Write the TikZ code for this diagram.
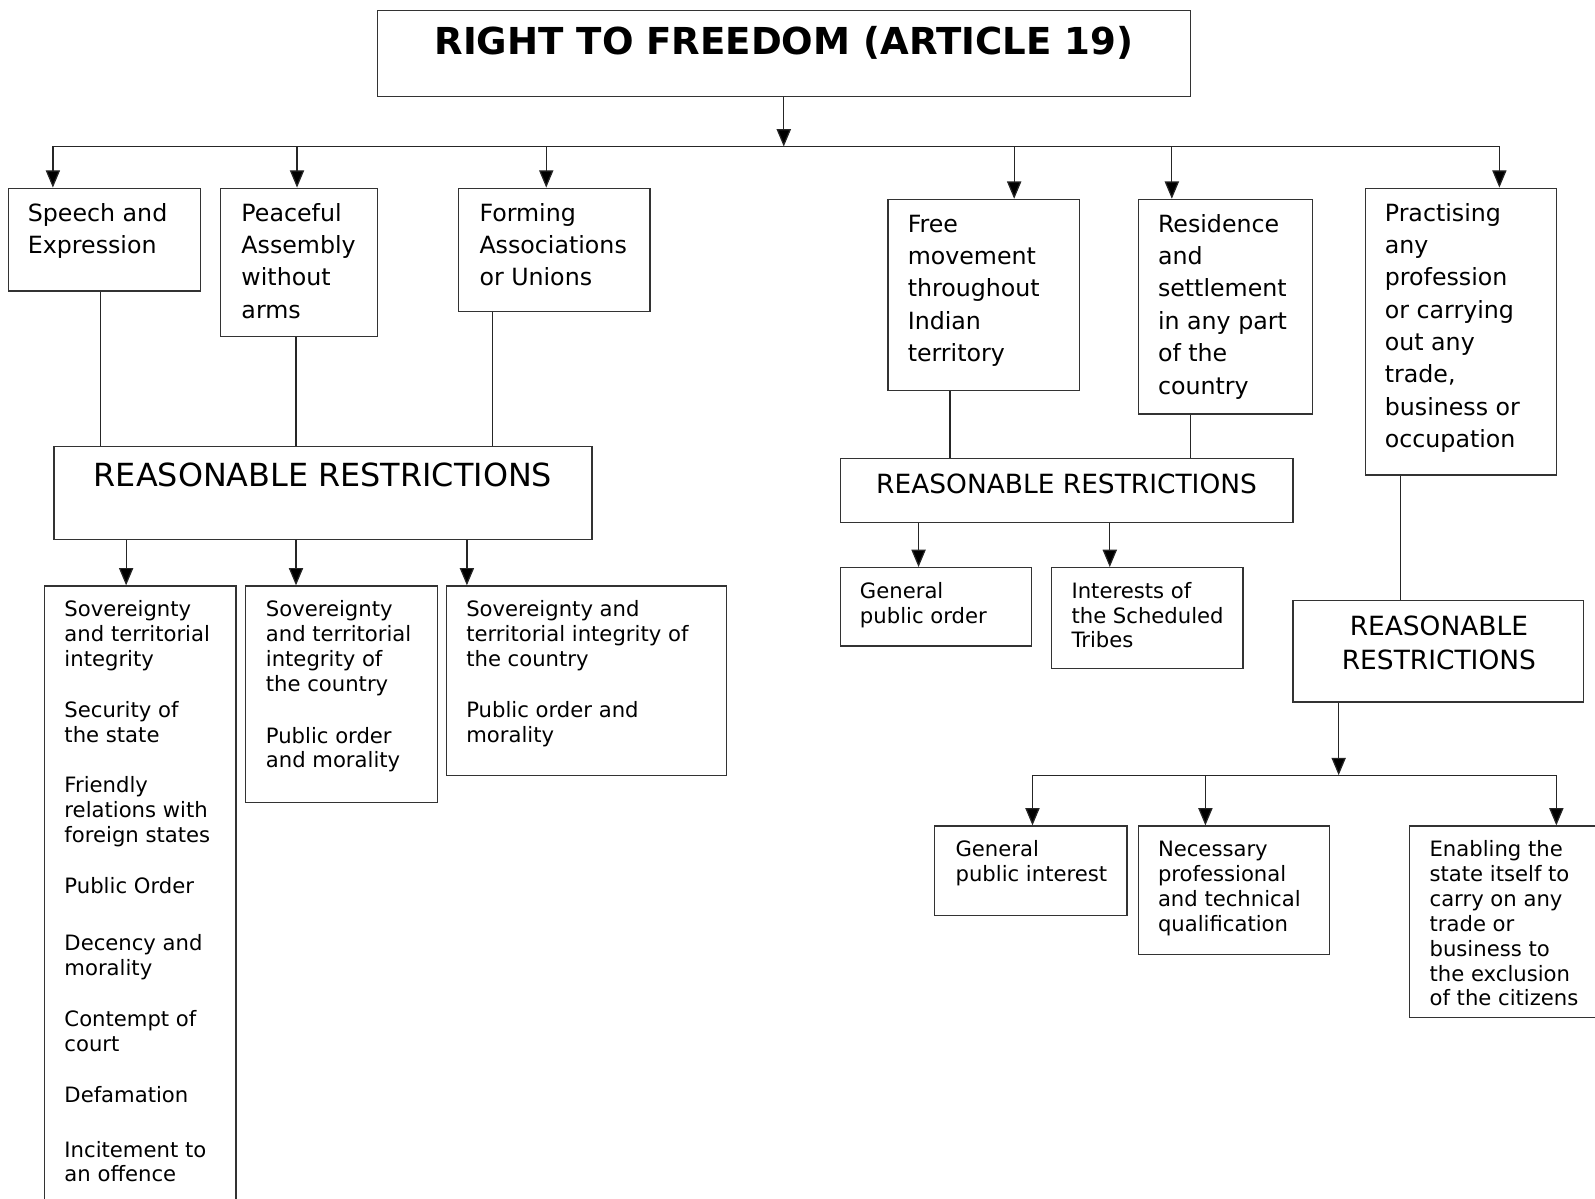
\documentclass[tikz,border=0pt]{standalone}
\usepackage{fontspec}
\setmainfont{DejaVu Sans}
\usetikzlibrary{arrows.meta,fit}
\tikzset{
 box/.style={draw=black!80, line width=0.6pt, inner sep=0pt},
 bigt/.style={font=\fontsize{11.65pt}{15.9pt}\selectfont, align=left, inner sep=0pt, anchor=north west},
 smallt/.style={font=\fontsize{10.4pt}{12.25pt}\selectfont, align=left, inner sep=0pt, anchor=north west},
 rrt/.style={inner sep=0pt, anchor=base, align=center},
 conn/.style={draw=black!85, line width=0.6pt},
 arr/.style={conn, -{Triangle[length=8.5pt,width=7pt,fill=black]}},
}
\begin{document}
\begin{tikzpicture}[x=0.5pt,y=-0.5pt]
\useasboundingbox (0,0) rectangle (1568,1178);
\clip (0,0) rectangle (1568,1178);
% title
\node[box, fit={(371,10)(1170,95)}] (title) {};
\node[font=\bfseries\fontsize{18.25pt}{22pt}\selectfont, inner sep=0pt, anchor=base] (titleT) at (770.5,54) {RIGHT TO FREEDOM (ARTICLE 19)};
% freedoms (text anchored at top of first-line strut: baseline - 22.3)
\node[box, fit={(8,185)(197,286)}] (speech) {};
\node[bigt] (speechT) at (27,194.7) {\strut Speech and\\Expression};
\node[box, fit={(217,185)(371,331)}] (assembly) {};
\node[bigt] (assemblyT) at (237,194.7) {\strut Peaceful\\Assembly\\without\\arms};
\node[box, fit={(451,185)(639,306)}] (assoc) {};
\node[bigt] (assocT) at (471,194.7) {\strut Forming\\Associations\\or Unions};
\node[box, fit={(873,196)(1061,384)}] (move) {};
\node[bigt] (moveT) at (892,205.7) {\strut Free\\movement\\throughout\\Indian\\territory};
\node[box, fit={(1119,196)(1290,407)}] (reside) {};
\node[bigt] (resideT) at (1138,205.7) {\strut Residence\\and\\settlement\\in any part\\of the\\country};
\node[box, fit={(1342,185)(1530,467)}] (prof) {};
\node[bigt] (profT) at (1361,194.7) {\strut Practising\\any\\profession\\or carrying\\out any\\trade,\\business or\\occupation};
% reasonable restrictions
\node[box, fit={(53,439)(582,530)}] (rr1) {};
\node[rrt, font=\fontsize{15.65pt}{19pt}\selectfont] (rr1T) at (317.5,478.5) {REASONABLE RESTRICTIONS};
\node[box, fit={(826,451)(1271,514)}] (rr2) {};
\node[rrt, font=\fontsize{13pt}{16pt}\selectfont] (rr2T) at (1048.5,485.5) {REASONABLE RESTRICTIONS};
\node[box, fit={(1271,590)(1557,690)}] (rr3) {};
\node[rrt, font=\fontsize{13pt}{17pt}\selectfont] (rr3T) at (1414.5,658.5) {REASONABLE\\RESTRICTIONS};
% restriction lists (text anchored at baseline - 17.15)
\node[box, fit={(44,576)(232,1210)}] (g1) {};
\node[smallt] (g1T) at (63,588.4) {\strut Sovereignty\\and territorial\\integrity\\[12.75pt]Security of\\the state\\[12.75pt]Friendly\\relations with\\foreign states\\[12.75pt]Public Order\\[15.75pt]Decency and\\morality\\[12.75pt]Contempt of\\court\\[12.75pt]Defamation\\[14.75pt]Incitement to\\an offence};
\node[box, fit={(241,576)(430,789)}] (g2) {};
\node[smallt] (g2T) at (261,588.4) {\strut Sovereignty\\and territorial\\integrity of\\the country\\[13.25pt]Public order\\and morality};
\node[box, fit={(439,576)(714,762)}] (g3) {};
\node[smallt] (g3T) at (458,588.4) {\strut Sovereignty and\\territorial integrity of\\the country\\[12.75pt]Public order and\\morality};
\node[box, fit={(826,558)(1014,635)}] (h1) {};
\node[smallt] (h1T) at (845,570.4) {\strut General\\public order};
\node[box, fit={(1034,558)(1222,657)}] (h2) {};
\node[smallt] (h2T) at (1053,570.4) {\strut Interests of\\the Scheduled\\Tribes};
\node[box, fit={(919,812)(1108,900)}] (k1) {};
\node[smallt] (k1T) at (939,824.4) {\strut General\\public interest};
\node[box, fit={(1119,812)(1307,938)}] (k2) {};
\node[smallt] (k2T) at (1138,824.4) {\strut Necessary\\professional\\and technical\\qualification};
\node[box, fit={(1386,812)(1610,1000)}] (k3) {};
\node[smallt] (k3T) at (1405,824.4) {\strut Enabling the\\state itself to\\carry on any\\trade or\\business to\\the exclusion\\of the citizens};
% connectors
\coordinate (busL) at (52,144);
\coordinate (busR) at (1474,144);
\draw[conn] (busL) -- (busR);
\draw[arr] (title.south) -- (title.south |- busL);
\draw[arr] (busL) -- (busL |- speech.north);
\draw[arr] (292,0 |- busL) -- (292,0 |- assembly.north);
\draw[arr] (537,0 |- busL) -- (537,0 |- assoc.north);
\draw[arr] (997,0 |- busL) -- (997,0 |- move.north);
\draw[arr] (1152,0 |- busL) -- (1152,0 |- reside.north);
\draw[arr] (busR) -- (busR |- prof.north);
\draw[conn] (99,0 |- speech.south) -- (99,0 |- rr1.north);
\draw[conn] (291,0 |- assembly.south) -- (291,0 |- rr1.north);
\draw[conn] (484,0 |- assoc.south) -- (484,0 |- rr1.north);
\draw[arr] (124,0 |- rr1.south) -- (124,0 |- g1.north);
\draw[arr] (291,0 |- rr1.south) -- (291,0 |- g2.north);
\draw[arr] (459,0 |- rr1.south) -- (459,0 |- g3.north);
\draw[conn] (934,0 |- move.south) -- (934,0 |- rr2.north);
\draw[conn] (1170,0 |- reside.south) -- (1170,0 |- rr2.north);
\draw[arr] (903,0 |- rr2.south) -- (903,0 |- h1.north);
\draw[arr] (1091,0 |- rr2.south) -- (1091,0 |- h2.north);
\draw[conn] (1377,0 |- prof.south) -- (1377,0 |- rr3.north);
\coordinate (bus2L) at (1015,762);
\coordinate (bus2R) at (1530,762);
\draw[conn] (bus2L) -- (bus2R);
\draw[arr] (1316,0 |- rr3.south) -- (1316,0 |- bus2L);
\draw[arr] (bus2L) -- (bus2L |- k1.north);
\draw[arr] (1185,0 |- bus2L) -- (1185,0 |- k2.north);
\draw[arr] (bus2R) -- (bus2R |- k3.north);
\end{tikzpicture}
\end{document}
